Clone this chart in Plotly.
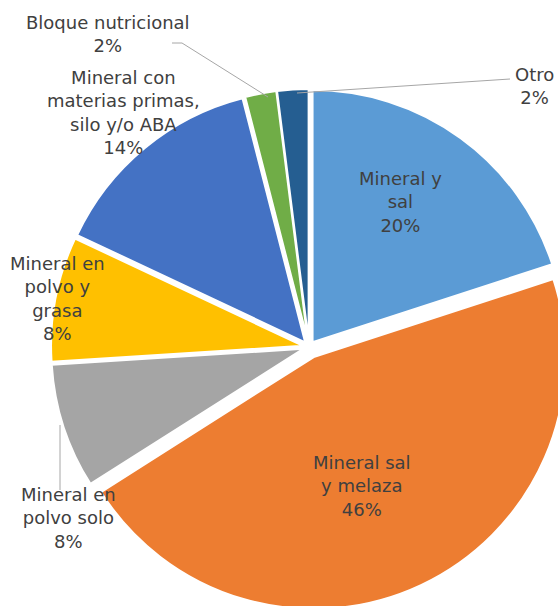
import plotly.graph_objects as go

# ---- data ----
categories = [
    "Mineral y sal",
    "Mineral sal y melaza",
    "Mineral en polvo solo",
    "Mineral en polvo y grasa",
    "Mineral con materias primas, silo y/o ABA",
    "Bloque nutricional",
    "Otro",
]
label_lines = [
    ["Mineral y", "sal"],
    ["Mineral sal", "y melaza"],
    ["Mineral en", "polvo solo"],
    ["Mineral en", "polvo y", "grasa"],
    ["Mineral con", "materias primas,", "silo y/o ABA"],
    ["Bloque nutricional"],
    ["Otro"],
]
percentages = [20, 46, 8, 8, 14, 2, 2]

# ---- styling ----
colors = ["#5B9BD5", "#ED7D31", "#A5A5A5", "#FFC000", "#4472C4", "#70AD47", "#255E91"]
pulls = [0.024, 0.044, 0.024, 0.024, 0.024, 0.024, 0.024]
W, H = 580, 630          # figure slightly larger than the window so the pie is clipped like the reference
OFF = 0
FONT = "DejaVu Sans"
TXT = "#404040"

def px(x):
    return (x - OFF) / W

def py(y):
    return 1 - (y - OFF) / H

# pie placement (window pixels)
CX, CY, R = 309, 347, 252
HALF = R * (1 + max(pulls))

# label block centres in window pixels
label_pos = [
    (400, 202),
    (362, 486),
    (68, 518),
    (57, 298),
    (123, 112),
    (108, 34),
    (534, 86),
]

fig = go.Figure(
    go.Pie(
        labels=categories,
        values=percentages,
        sort=False,
        direction="clockwise",
        rotation=0,
        pull=pulls,
        marker=dict(colors=colors, line=dict(color="white", width=2)),
        textinfo="none",
        hoverinfo="label+percent",
        showlegend=False,
        domain=dict(x=[px(CX - HALF), px(CX + HALF)],
                    y=[py(CY + HALF), py(CY - HALF)]),
    )
)

annotations = []
for lines, pct, (x, y) in zip(label_lines, percentages, label_pos):
    annotations.append(
        dict(
            x=px(x), y=py(y), xref="paper", yref="paper",
            text="<br>".join(lines + [f"{pct}%"]),
            showarrow=False, align="center",
            xanchor="center", yanchor="middle",
            font=dict(family=FONT, size=18, color=TXT),
        )
    )

leader = dict(color="#A6A6A6", width=1)
shapes = [
    dict(type="path", xref="paper", yref="paper",
         path=f"M {px(172)} {py(43)} L {px(182)} {py(43)} L {px(268)} {py(97)}",
         line=leader),
    dict(type="path", xref="paper", yref="paper",
         path=f"M {px(510)} {py(79)} L {px(297)} {py(93)}",
         line=leader),
    dict(type="line", xref="paper", yref="paper",
         x0=px(60), y0=py(425), x1=px(60), y1=py(490), line=leader),
]

fig.update_layout(
    width=W, height=H,
    margin=dict(l=0, r=0, t=0, b=0),
    paper_bgcolor="white", plot_bgcolor="white",
    annotations=annotations,
    shapes=shapes,
)

fig.write_html(
    "out.html",
    config={"displayModeBar": False},
    post_script=(
        "document.documentElement.style.overflow='hidden';"
        "document.body.style.overflow='hidden';"
        "document.body.style.margin='0';"
    ),
)
